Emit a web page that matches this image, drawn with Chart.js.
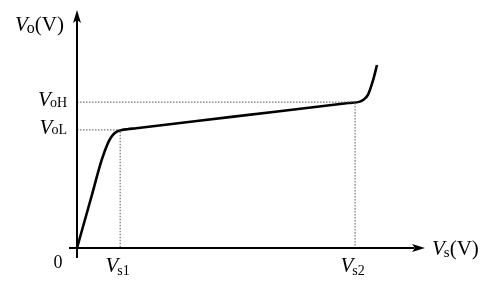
<!DOCTYPE html>
<html>
<head>
<meta charset="utf-8">
<script src="https://cdn.jsdelivr.net/npm/chart.js@4.4.1/dist/chart.umd.min.js"></script>
<style>
  html, body { margin: 0; padding: 0; background: #fff; }
  #wrap { width: 494px; height: 283px; }
</style>
</head>
<body>
<div id="wrap"><canvas id="vtc"></canvas></div>
<script>
// levels (arbitrary units, axis runs 0..10)
const vs1 = 1.24;
const vs2 = 7.99;
const voL = 4.96;
const voH = 6.13;

// transfer curve Vo(Vs)
const curveX = [0, 0.4, 0.71, 0.89, 1.0, 1.12, 1.29, 1.45, 1.7, 4.5, 7.8, 8.13, 8.22, 8.36, 8.51, 8.62];
const curveY = [0, 2.08, 3.70, 4.41, 4.70, 4.87, 4.955, 4.99, 5.03, 5.52, 6.09, 6.15, 6.22, 6.43, 7.06, 7.69];

// tick labels: italic V + subscript
const xTickLabels = [{ value: vs1, sub: 's1' }, { value: vs2, sub: 's2' }];
const yTickLabels = [{ value: voH, sub: 'oH' }, { value: voL, sub: 'oL' }];
const xAxisTitle = { sub: 's', unit: '(V)' };
const yAxisTitle = { sub: 'o', unit: '(V)' };
const originLabel = '0';

function pts(xs, ys) {
    return xs.map((x, i) => ({ x: x, y: ys[i] }));
}

const dotted = {
    borderColor: '#555',
    borderWidth: 1,
    borderDash: [1.5, 1.5],
    pointRadius: 0,
    tension: 0,
    clip: false
};

const SERIF = '"Liberation Serif", "DejaVu Serif", serif';

function drawV(ctx, x, y, sub, unit, size, subSize, subDrop) {
    // returns total width if x is null (measure only)
    ctx.font = 'italic ' + size + 'px ' + SERIF;
    const wV = ctx.measureText('V').width;
    ctx.font = subSize + 'px ' + SERIF;
    const wS = ctx.measureText(sub).width;
    ctx.font = size + 'px ' + SERIF;
    const wU = unit ? ctx.measureText(unit).width : 0;
    if (x === null) return wV + wS + wU;
    ctx.textBaseline = 'alphabetic';
    ctx.textAlign = 'left';
    ctx.font = 'italic ' + size + 'px ' + SERIF;
    ctx.fillText('V', x, y);
    ctx.font = subSize + 'px ' + SERIF;
    ctx.fillText(sub, x + wV - 1, y + subDrop);
    if (unit) {
        ctx.font = size + 'px ' + SERIF;
        ctx.fillText(unit, x + wV + wS - 1, y);
    }
    return wV + wS + wU;
}

const decorations = {
    id: 'decorations',
    afterDatasetsDraw(chart) {
        const ctx = chart.ctx;
        const xs = chart.scales.x;
        const ys = chart.scales.y;
        const ox = xs.getPixelForValue(0);
        const oy = ys.getPixelForValue(0);
        ctx.save();
        ctx.fillStyle = '#000';

        // arrowheads
        const tipX = xs.getPixelForValue(10);
        ctx.beginPath();
        ctx.moveTo(tipX, oy);
        ctx.lineTo(tipX - 13, oy - 4);
        ctx.lineTo(tipX - 10, oy);
        ctx.lineTo(tipX - 13, oy + 4);
        ctx.closePath();
        ctx.fill();
        const tipY = ys.getPixelForValue(10);
        ctx.beginPath();
        ctx.moveTo(ox, tipY);
        ctx.lineTo(ox - 4, tipY + 13);
        ctx.lineTo(ox, tipY + 10);
        ctx.lineTo(ox + 4, tipY + 13);
        ctx.closePath();
        ctx.fill();

        // y tick labels, right aligned against the axis
        yTickLabels.forEach(t => {
            const py = ys.getPixelForValue(t.value);
            const w = drawV(ctx, null, 0, t.sub, '', 21, 14, 0);
            drawV(ctx, ox - 9 - w, py + 4, t.sub, '', 21, 14, 0.5);
        });

        // x tick labels, centred under the guides
        xTickLabels.forEach(t => {
            const px = xs.getPixelForValue(t.value);
            const w = drawV(ctx, null, 0, t.sub, '', 21, 14, 0);
            drawV(ctx, px - w / 2 - 2, oy + 24, t.sub, '', 21, 14, 3);
        });

        // axis titles
        drawV(ctx, 15, 31, yAxisTitle.sub, yAxisTitle.unit, 21, 16, 2);
        drawV(ctx, tipX + 7, oy + 7, xAxisTitle.sub, xAxisTitle.unit, 21, 15, 2);

        // origin
        ctx.font = '18px ' + SERIF;
        ctx.textAlign = 'center';
        ctx.fillText(originLabel, ox - 19, oy + 20);
        ctx.restore();
    }
};

new Chart(document.getElementById('vtc'), {
    type: 'scatter',
    data: {
        datasets: [
            // axes
            {
                data: pts([-0.23, 9.7], [0, 0]),
                showLine: true, borderColor: '#000', borderWidth: 2,
                pointRadius: 0, clip: false
            },
            {
                data: pts([0, 0], [-0.42, 9.6]),
                showLine: true, borderColor: '#000', borderWidth: 2,
                pointRadius: 0, clip: false
            },
            // guides
            Object.assign({ data: pts([0, vs1, vs1], [voL, voL, 0]), showLine: true }, dotted),
            Object.assign({ data: pts([0, vs2, vs2], [voH, voH, 0]), showLine: true }, dotted),
            // characteristic
            {
                data: pts(curveX, curveY),
                showLine: true,
                borderColor: '#000',
                borderWidth: 2.6,
                pointRadius: 0,
                cubicInterpolationMode: 'monotone',
                clip: false
            }
        ]
    },
    options: {
        responsive: true,
        maintainAspectRatio: false,
        animation: false,
        layout: { padding: { left: 77, right: 69, top: 10, bottom: 35 } },
        scales: {
            x: { type: 'linear', min: 0, max: 10, display: false },
            y: { type: 'linear', min: 0, max: 10, display: false }
        },
        plugins: {
            legend: { display: false },
            tooltip: { enabled: false }
        }
    },
    plugins: [decorations]
});
</script>
</body>
</html>
